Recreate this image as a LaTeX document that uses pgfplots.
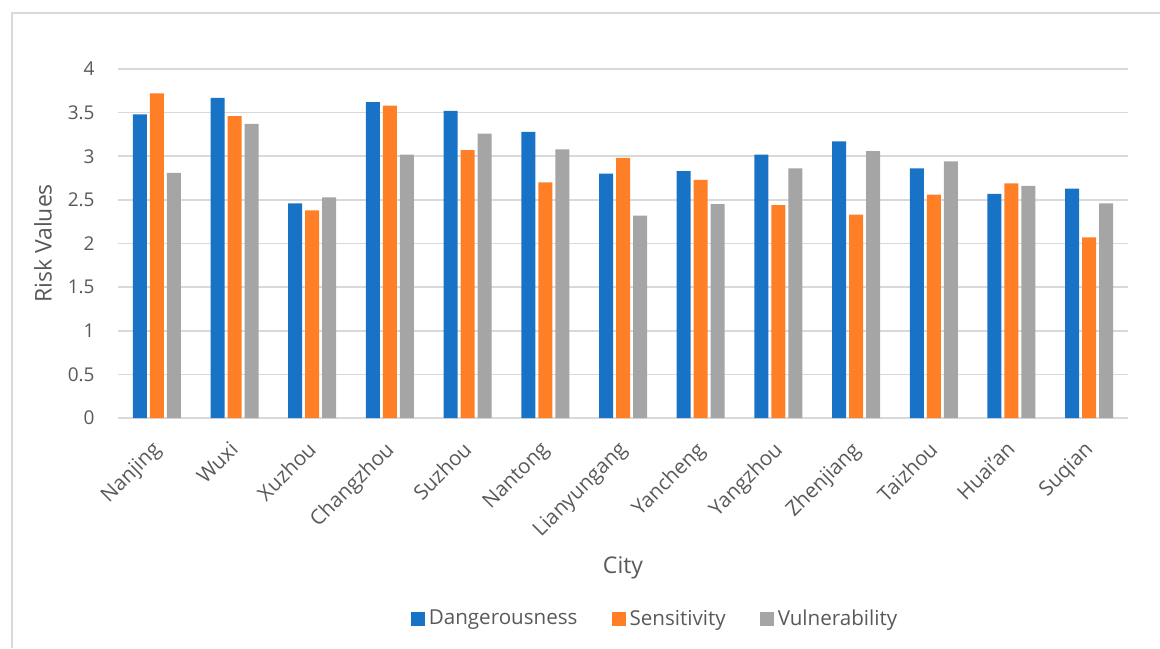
\documentclass[border=0pt]{standalone}
\usepackage{pgfplots}
\pgfplotsset{compat=1.18}
\usepackage{fontspec}
\setmainfont{Open Sans}
\definecolor{cblue}{HTML}{1873C7}
\definecolor{corange}{HTML}{FF7F27}
\definecolor{cgray}{HTML}{A5A5A5}
\definecolor{ctext}{HTML}{595959}
\definecolor{cgrid}{HTML}{D9D9D9}
\begin{document}
\begin{tikzpicture}
\useasboundingbox (0,0) rectangle (580pt,324pt);
\draw[cgrid, line width=0.6pt] (6pt,0) -- (6pt,317.5pt) -- (580pt,317.5pt);
\begin{axis}[
  at={(59pt,115pt)}, anchor=south west,
  scale only axis, width=505pt, height=174.5pt,
  ybar=1.5pt, bar width=7pt,
  xmin=-0.5, xmax=12.5, ymin=0, ymax=4,
  xtick={0,...,12},
  xticklabels={Nanjing,Wuxi,Xuzhou,Changzhou,Suzhou,Nantong,Lianyungang,Yancheng,Yangzhou,Zhenjiang,Taizhou,Huai’an,Suqian},
  ytick={0,0.5,...,4},
  yticklabels={0,0.5,1,1.5,2,2.5,3,3.5,4},
  axis line style={draw=none},
  tick style={draw=none},
  ymajorgrids, grid style={cgrid, line width=0.75pt},
  yticklabel style={font=\fontsize{9.5}{11}\selectfont, text=ctext, inner sep=0pt, anchor=east},
  yticklabel shift=11.5pt,
  xticklabel style={font=\fontsize{10.3}{12}\selectfont, text=ctext, xshift=-3pt, rotate=45, anchor=north east, inner sep=0pt},
  xticklabel shift=6.5pt,
  every axis y label/.style={at={(axis description cs:-0.0743,0.5)}, rotate=90, anchor=center, font=\fontsize{11.5}{13}\selectfont, text=ctext},
  every axis x label/.style={at={(axis description cs:0.5,-0.43)}, anchor=center, font=\fontsize{11.5}{13}\selectfont, text=ctext},
  ylabel={Risk Values}, xlabel={City},
  legend columns=3,
  legend style={at={(axis description cs:0.5327,-0.576)}, anchor=center, draw=none, fill=none,
    font=\fontsize{10.3}{12}\selectfont, text=ctext,
    /tikz/every even column/.append style={column sep=15pt},
    inner sep=0pt},
  legend image code/.code={\fill[#1] (0pt,-3.5pt) rectangle (7pt,3.5pt);},
]
\addplot[fill=cblue, draw=none] coordinates {(0,3.48) (1,3.67) (2,2.46) (3,3.62) (4,3.52) (5,3.28) (6,2.80) (7,2.83) (8,3.02) (9,3.17) (10,2.86) (11,2.57) (12,2.63)};
\addplot[fill=corange, draw=none] coordinates {(0,3.72) (1,3.46) (2,2.38) (3,3.58) (4,3.07) (5,2.70) (6,2.98) (7,2.73) (8,2.44) (9,2.33) (10,2.56) (11,2.69) (12,2.07)};
\addplot[fill=cgray, draw=none] coordinates {(0,2.81) (1,3.37) (2,2.53) (3,3.02) (4,3.26) (5,3.08) (6,2.32) (7,2.45) (8,2.86) (9,3.06) (10,2.94) (11,2.66) (12,2.46)};
\legend{Dangerousness,Sensitivity,Vulnerability}
\end{axis}
\end{tikzpicture}
\end{document}
